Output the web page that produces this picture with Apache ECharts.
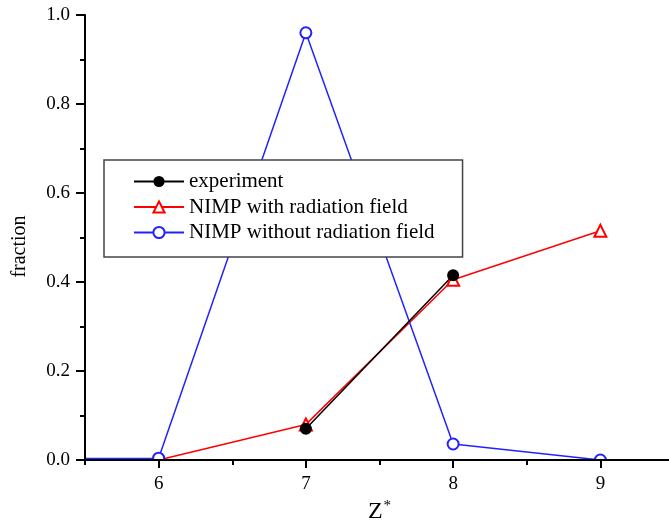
<!DOCTYPE html>
<html>
<head>
<meta charset="utf-8">
<script src="https://cdn.jsdelivr.net/npm/echarts@6/dist/echarts.min.js"></script>
<style>
  html, body { margin: 0; padding: 0; background: #fff; }
  #chart { width: 669px; height: 525px; }
</style>
</head>
<body>
<div id="chart"></div>
<script>
// Z* values and the fractions
var zExperiment = [7, 8];
var experiment = [0.07, 0.415];

var zModel = [5, 6, 7, 8, 9];
var withField = [0.0, 0.0, 0.08, 0.405, 0.515];
var withoutField = [0.003, 0.004, 0.96, 0.036, 0.0];

var majorTicks = [6, 7, 8, 9];
var minorTicks = [5.5, 6, 6.5, 7, 7.5, 8, 8.5, 9, 9.5];

var seriesNames = ['experiment', 'NIMP with radiation field', 'NIMP without radiation field'];

function pairs(xs, ys) {
  return xs.map(function (x, i) { return [x, ys[i]]; });
}

var serif = 'Liberation Serif';
var gridLeft = 85, gridTop = 15, gridW = 589, gridH = 445;

var myChart = echarts.init(document.getElementById('chart'), null, { renderer: 'canvas' });

var option = {
  backgroundColor: '#fff',
  animation: false,
  grid: { left: gridLeft, top: gridTop, width: gridW, height: gridH, outerBoundsMode: 'none', containLabel: false },
  // white band under the plot so markers sitting on the axis are cut off like the original
  graphic: [{
    type: 'rect',
    z: 5,
    silent: true,
    shape: { x: 0, y: gridTop + gridH + 1, width: 669, height: 525 - gridTop - gridH },
    style: { fill: '#fff' }
  }],
  legend: {
    data: seriesNames,
    orient: 'vertical',
    left: 104,
    top: 160,
    padding: [11, 28, 14, 29],
    itemWidth: 50,
    itemHeight: 14,
    itemGap: 4.5,
    borderColor: '#444',
    borderWidth: 1.5,
    backgroundColor: '#fff',
    z: 20,
    textStyle: { fontFamily: serif, fontSize: 21, color: '#000' }
  },
  xAxis: [{
    type: 'value',
    min: 5.5,
    max: 9.5,
    z: 10,
    name: '{a|Z}{b|*}',
    nameLocation: 'middle',
    nameGap: 38,
    nameTextStyle: {
      rich: {
        a: { fontFamily: serif, fontSize: 24, color: '#000' },
        b: { fontFamily: serif, fontSize: 15, color: '#000', verticalAlign: 'top', padding: [0, 0, 10, 1] }
      }
    },
    axisLine: { lineStyle: { color: '#000', width: 2 } },
    axisTick: { show: true, inside: false, length: 5, customValues: minorTicks, lineStyle: { color: '#000', width: 2 } },
    axisLabel: { show: true, customValues: majorTicks, margin: 15, fontFamily: serif, fontSize: 19, color: '#000' },
    splitLine: { show: false }
  }, {
    type: 'value',
    min: 5.5,
    max: 9.5,
    z: 10,
    position: 'bottom',
    axisLine: { show: false },
    axisTick: { show: true, inside: false, length: 8, customValues: majorTicks, lineStyle: { color: '#000', width: 2 } },
    axisLabel: { show: false },
    splitLine: { show: false }
  }],
  yAxis: {
    type: 'value',
    min: 0,
    max: 1,
    interval: 0.2,
    z: 10,
    name: 'fraction',
    nameLocation: 'middle',
    nameGap: 55,
    nameTextStyle: { fontFamily: serif, fontSize: 20, color: '#000', padding: [0, 18, 0, 0] },
    axisLine: { show: true, lineStyle: { color: '#000', width: 2 } },
    axisTick: { show: true, inside: false, length: 9, lineStyle: { color: '#000', width: 2 } },
    minorTick: { show: true, splitNumber: 2, length: 5, lineStyle: { color: '#000', width: 2 } },
    axisLabel: {
      margin: 15,
      fontFamily: serif,
      fontSize: 19,
      color: '#000',
      formatter: function (v) { return v.toFixed(1); }
    },
    splitLine: { show: false },
    minorSplitLine: { show: false }
  },
  series: [{
    name: 'NIMP with radiation field',
    type: 'line',
    data: pairs(zModel, withField),
    symbol: 'emptyTriangle',
    symbolSize: 12,
    color: '#ff0000',
    lineStyle: { color: '#ff0000', width: 1.5 },
    itemStyle: { color: '#ff0000', borderWidth: 1.5 }
  }, {
    name: 'NIMP without radiation field',
    type: 'line',
    data: pairs(zModel, withoutField),
    symbol: 'emptyCircle',
    symbolSize: 11,
    color: '#2222ff',
    lineStyle: { color: '#2222ff', width: 1.5 },
    itemStyle: { color: '#2222ff', borderWidth: 1.5 }
  }, {
    name: 'experiment',
    type: 'line',
    data: pairs(zExperiment, experiment),
    symbol: 'circle',
    symbolSize: 12,
    color: '#000',
    lineStyle: { color: '#000', width: 1.5 },
    itemStyle: { color: '#000' }
  }]
};

myChart.setOption(option);
</script>
</body>
</html>
